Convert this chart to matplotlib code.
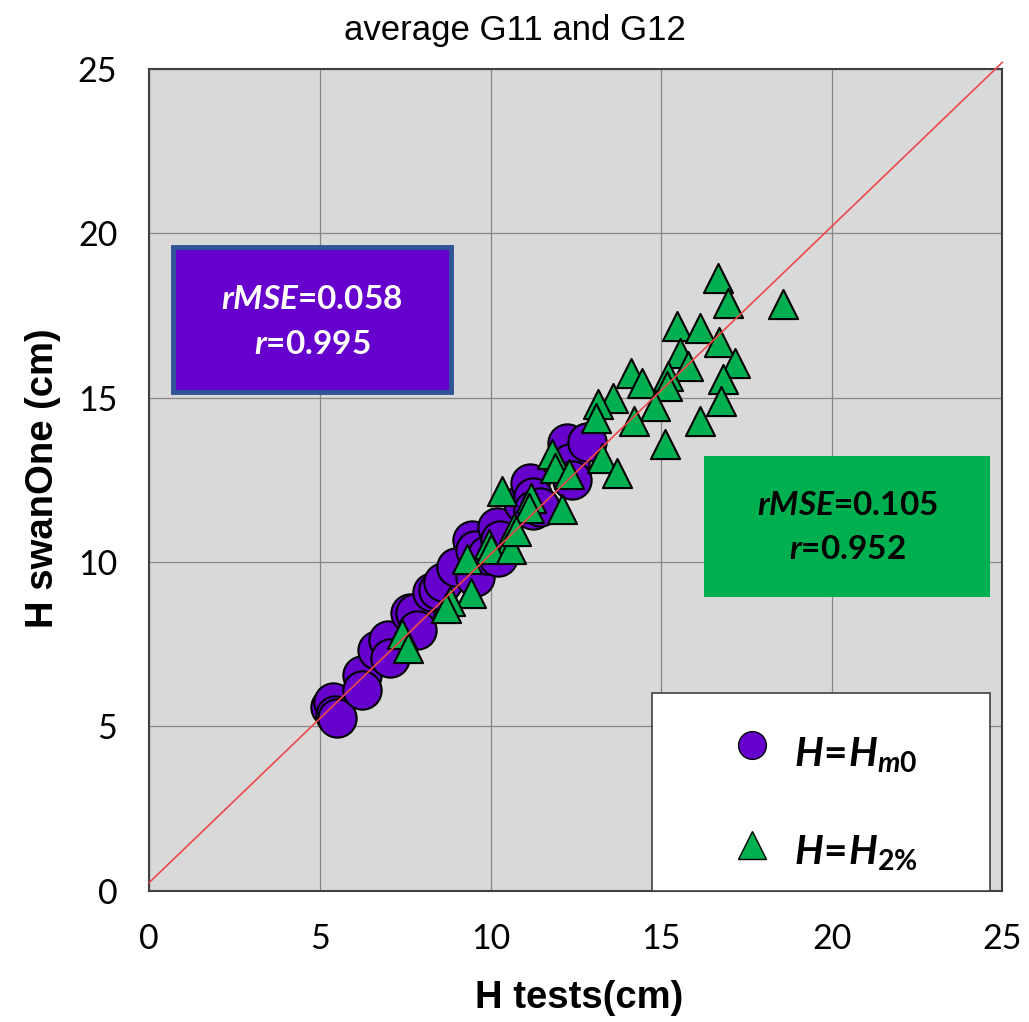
import numpy as np
import matplotlib
matplotlib.use("Agg")
import matplotlib.pyplot as plt
from matplotlib import font_manager
from matplotlib.patches import Rectangle

PURPLE = "#6600CC"; GREEN = "#00B050"; BG = "#D9D9D9"; GRID = "#878787"; BLUE_EDGE = "#2F5597"

def pick(fam, fallback):
    try:
        font_manager.findfont(font_manager.FontProperties(family=fam), fallback_to_default=False)
        return fam
    except Exception:
        return fallback

ARIAL = pick("Liberation Sans", "DejaVu Sans")
BODY = pick("Lato", "DejaVu Sans")

plt.rcParams.update({"mathtext.fontset": "custom",
                     "mathtext.it": f"{BODY}:italic:bold",
                     "mathtext.rm": f"{BODY}:bold",
                     "mathtext.bf": f"{BODY}:bold"})

# H = Hm0 (circles): H tests, H swanOne (cm)
hm0_test = [5.30, 5.39, 5.44, 5.50, 6.22, 6.22, 6.66, 7.00, 7.05, 7.64, 7.79, 7.84, 8.30,
            8.46, 8.60, 9.00, 9.45, 9.55, 9.55, 9.90, 10.18, 10.23, 10.28, 10.95, 11.16,
            11.25, 11.25, 11.45, 12.23, 12.33, 12.38, 12.82]
hm0_swan = [5.60, 5.75, 5.35, 5.25, 6.56, 6.11, 7.32, 7.63, 7.08, 8.45, 8.45, 7.93, 9.10,
            9.15, 9.39, 9.86, 10.67, 9.55, 10.37, 10.20, 11.07, 10.16, 10.67, 11.80, 12.40,
            11.99, 11.58, 11.68, 13.61, 13.00, 12.49, 13.66]

# H = H2% (triangles)
h2_test = [16.66, 16.95, 18.56, 15.48, 16.13, 16.70, 15.54, 15.78, 17.16, 14.13, 14.43,
           15.19, 15.16, 16.80, 13.58, 13.14, 14.81, 16.77, 13.10, 14.22, 16.13, 15.10,
           13.26, 13.70, 11.80, 11.88, 12.30, 11.20, 12.10, 10.35, 10.70, 9.97, 10.47,
           9.30, 10.00, 10.60, 9.44, 8.80, 8.70, 7.42, 7.57, 11.14, 10.76]
h2_swan = [18.63, 17.87, 17.84, 17.17, 17.11, 16.70, 16.35, 15.96, 16.05, 15.74, 15.44,
           15.65, 15.35, 15.56, 14.98, 14.80, 14.74, 14.89, 14.38, 14.29, 14.29, 13.59,
           13.16, 12.70, 13.28, 12.86, 12.67, 11.95, 11.60, 12.16, 11.03, 10.55, 10.43,
           10.10, 10.40, 10.40, 9.06, 8.80, 8.60, 7.81, 7.39, 11.64, 10.94]

line_x = [0, 25]
line_y = [0.25, 25.2]

fig = plt.figure(figsize=(10.29, 10.22), dpi=100)
ax = fig.add_axes([149.3/1029, 1-890.7/1022, 853/1029, 821.7/1022])
ax.set_facecolor(BG)
ax.set_xlim(0, 25); ax.set_ylim(0, 25)
ax.set_xticks(range(0, 26, 5)); ax.set_yticks(range(0, 26, 5))
ax.grid(True, color=GRID, lw=0.9, zorder=0)
ax.set_axisbelow(True)
ax.tick_params(length=0, labelsize=24.5, pad=23)
for lab in ax.get_xticklabels() + ax.get_yticklabels():
    lab.set_fontfamily(BODY)
for s in ax.spines.values():
    s.set_color("#404040"); s.set_linewidth(1.5)

ax.scatter(hm0_test, hm0_swan, s=760, marker="o", color=PURPLE, edgecolor="black", lw=1.5, zorder=3)
ax.scatter(h2_test, h2_swan, s=440, marker="^", color=GREEN, edgecolor="black", lw=1.5, zorder=4)
ax.plot(line_x, line_y, color="#F04848", lw=1.2, zorder=5, clip_on=False)

# stat boxes
ax.add_patch(Rectangle((0.69, 15.17), 8.15, 4.41, facecolor=PURPLE, edgecolor=BLUE_EDGE, lw=3.5, zorder=6))
ax.text(4.77, 17.99, r"$\mathit{rMSE}$=0.058", ha="center", va="center", color="white",
        fontsize=24, fontweight="bold", family=BODY, zorder=7)
ax.text(4.77, 16.62, r"$\mathit{r}$=0.995", ha="center", va="center", color="white",
        fontsize=24, fontweight="bold", family=BODY, zorder=7)
ax.add_patch(Rectangle((16.26, 8.94), 8.38, 4.29, facecolor=GREEN, edgecolor="none", zorder=6))
ax.text(20.45, 11.73, r"$\mathit{rMSE}$=0.105", ha="center", va="center", color="black",
        fontsize=24, fontweight="bold", family=BODY, zorder=7)
ax.text(20.45, 10.37, r"$\mathit{r}$=0.952", ha="center", va="center", color="black",
        fontsize=24, fontweight="bold", family=BODY, zorder=7)

# legend box
ax.add_patch(Rectangle((0.589, 0.0), 0.3967, 0.2406, transform=ax.transAxes, facecolor="white",
                       edgecolor="#404040", lw=1.2, zorder=6))
ax.plot([0.7066], [0.1773], marker="o", ms=20, color=PURPLE, mec="black", mew=1.0,
        transform=ax.transAxes, zorder=7, clip_on=False)
ax.plot([0.7066], [0.0556], marker="^", ms=20, color=GREEN, mec="black", mew=1.0,
        transform=ax.transAxes, zorder=7, clip_on=False)
ax.text(0.756, 0.1505, r"$\mathit{H\!=\!H_{m0}}$", transform=ax.transAxes, fontsize=29,
        va="baseline", ha="left", zorder=7)
ax.text(0.756, 0.0313, r"$\mathit{H\!=\!H_{2\%}}$", transform=ax.transAxes, fontsize=29,
        va="baseline", ha="left", zorder=7)

fig.text(515/1029, 1-30/1022, "average G11 and G12", ha="center", va="center", fontsize=25, family=ARIAL)
fig.text(579/1029, 1-998/1022, "H tests(cm)", ha="center", va="center", fontsize=27.5,
         fontweight="bold", family=ARIAL)
fig.text(43.5/1029, 1-478/1022, "H swanOne (cm)", ha="center", va="center", fontsize=27.5,
         fontweight="bold", family=ARIAL, rotation=90)

fig.savefig("out.png", dpi=100, facecolor="white")
